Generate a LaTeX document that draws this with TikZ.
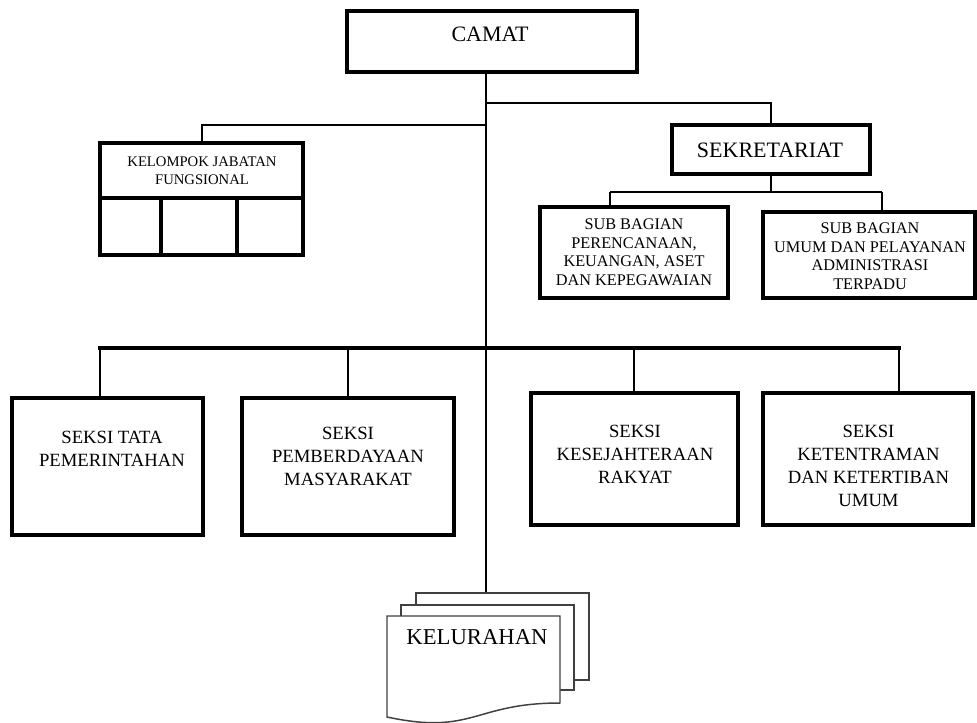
\documentclass[tikz,border=0pt]{standalone}
\usepackage{fontspec}
\setmainfont{Liberation Serif}
\begin{document}
\begin{tikzpicture}[x=0.75pt,y=-0.75pt,
  box/.style={draw, line width=3pt, fill=white, inner sep=0pt},
  thinbox/.style={draw, line width=2.4pt, fill=white, inner sep=0pt},
  sheet/.style={draw=black!75, line width=1.1pt, fill=white, inner sep=0pt},
  conn/.style={line width=2.2pt},
  spineline/.style={line width=1.6pt},
  barline/.style={line width=3.4pt, line cap=rect},
  txt/.style={align=center, inner sep=0pt},
  big/.style={txt, font=\fontsize{16.5}{19}\selectfont},
  mid/.style={txt, font=\fontsize{14}{17.3}\selectfont},
  small/.style={txt, font=\fontsize{12.2}{13.9}\selectfont},
  tiny/.style={txt, font=\fontsize{11}{13.5}\selectfont}]
\useasboundingbox (0,0) rectangle (977,722);

% --- boxes ---
\node[thinbox, minimum width=217.5pt, minimum height=45.75pt] (camat) at (492,41.5) {};
\node[big] (camatt) at (490,34) {CAMAT};

\node[box, minimum width=148.5pt, minimum height=36.75pt] (sek) at (771,149.5) {};
\node[big] (sekt) at (770,150) {SEKRETARIAT};

\node[box, minimum width=152.25pt, minimum height=41.25pt] (kelhead) at (201.5,170.5) {};
\node[tiny] (kelheadt) at (202,171) {KELOMPOK JABATAN\\FUNGSIONAL};
\node[box, minimum width=45.75pt, minimum height=42.75pt] (cell1) at (130.5,226.5) {};
\node[box, minimum width=57pt, minimum height=42.75pt] (cell2) at (199,226.5) {};
\node[box, minimum width=49.5pt, minimum height=42.75pt] (cell3) at (270,226.5) {};

\node[box, minimum width=141pt, minimum height=68.25pt] (sub1) at (634,252.5) {};
\node[small] (sub1t) at (634,252) {SUB BAGIAN\\PERENCANAAN,\\KEUANGAN, ASET\\DAN KEPEGAWAIAN};
\node[box, minimum width=159pt, minimum height=64.5pt] (sub2) at (869,255) {};
\node[small] (sub2t) at (870,256) {SUB BAGIAN\\UMUM DAN PELAYANAN\\ADMINISTRASI\\TERPADU};

\node[box, minimum width=143.25pt, minimum height=102.75pt] (tata) at (107.5,466.5) {};
\node[mid] (tatat) at (112,448.5) {SEKSI TATA\\PEMERINTAHAN};
\node[box, minimum width=159pt, minimum height=102.75pt] (pemb) at (348,466.5) {};
\node[mid] (pembt) at (348,456.5) {SEKSI\\PEMBERDAYAAN\\MASYARAKAT};
\node[box, minimum width=155.25pt, minimum height=99pt] (kes) at (634.5,459) {};
\node[mid] (kest) at (635,454.5) {SEKSI\\KESEJAHTERAAN\\RAKYAT};
\node[box, minimum width=157.5pt, minimum height=99pt] (ket) at (868,459) {};
\node[mid] (kett) at (868.5,465.5) {SEKSI\\KETENTRAMAN\\DAN KETERTIBAN\\UMUM};

% --- kelurahan (stacked documents) ---
\node[sheet, minimum width=129.75pt, minimum height=65.25pt] (kel3) at (502.5,636.5) {};
\node[sheet, minimum width=129.75pt, minimum height=63.75pt] (kel2) at (487.5,647.5) {};
\begin{scope}
\clip (0,0) rectangle (977,722);
\draw[sheet] (387,616) -- (560,616) -- (560,703)
  .. controls (473.5,703) and (473.5,735.5) .. (387,717) -- cycle;
\end{scope}
\node[big, font=\fontsize{17}{19}\selectfont] (kelt) at (477,637) {KELURAHAN};

% --- connectors ---
\coordinate (spine) at (486,0);
\draw[spineline] (camat.south -| spine) -- (kel3.north -| spine);

\coordinate (jr) at (771,103);
\draw[conn] (jr -| spine) -- (jr) -- (sek.north);

\coordinate (jl) at (202,125);
\draw[conn] (jl -| spine) -- (jl) -- (jl |- kelhead.north);

\coordinate (js) at (771,192);
\coordinate (js1) at (610,192);
\coordinate (js2) at (882,192);
\draw[conn] (sek.south) -- (js);
\draw[conn] (js1) -- (js2);
\draw[conn] (js1) -- (js1 |- sub1.north);
\draw[conn] (js2) -- (js2 |- sub2.north);

\coordinate (b1) at (100,348);
\coordinate (b2) at (348,348);
\coordinate (b3) at (634,348);
\coordinate (b4) at (899,348);
\draw[barline] (b1) -- (b4);
\draw[conn] (b1) -- (b1 |- tata.north);
\draw[conn] (b2) -- (b2 |- pemb.north);
\draw[conn] (b3) -- (b3 |- kes.north);
\draw[conn] (b4) -- (b4 |- ket.north);
\end{tikzpicture}
\end{document}
